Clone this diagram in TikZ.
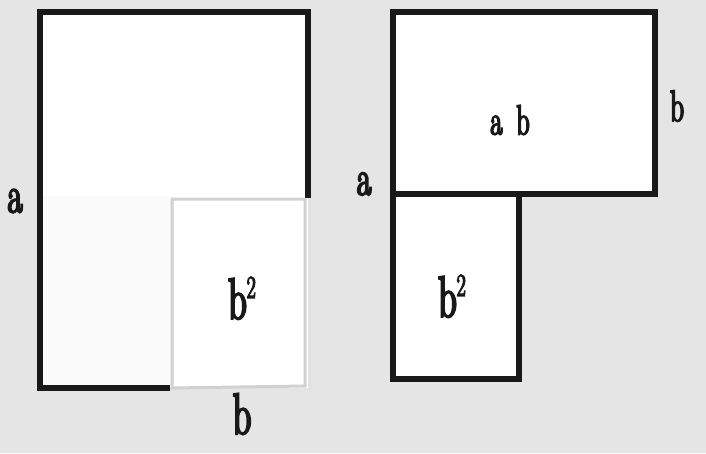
\documentclass[tikz,border=0pt]{standalone}
\usepackage{fontspec}
\newfontfamily\labfont[FakeBold=4,FakeStretch=0.62]{Latin Modern Roman}
\newcommand\narrowtxt[2]{{\labfont\fontsize{#1}{#1}\selectfont #2}}
\begin{document}
\begin{tikzpicture}[x=1pt,y=-1pt,
  thick line/.style={draw=black!90, line width=6.5pt},
  faint line/.style={draw=black!18, line width=3pt},
  lbl/.style={inner sep=0pt, text=black!90}]
\fill[black!10] (0,0) rectangle (706,453);
\useasboundingbox (0,0) rectangle (706,453);
% left figure
\fill[white] (40,12) rectangle (308,388);
\fill[black!2] (40,196) rectangle (172,388);
\draw[faint line] (172,388) -- (172,199) -- (305,199) -- (305,386) -- cycle;
\draw[black!12, line width=2pt] (310,197) -- (310,391);
\draw[thick line, line join=miter] (170,388) -- (40,388) -- (40,12) -- (308,12) -- (308,198);
% right figure
\draw[thick line, fill=white] (393,12) rectangle (655,194);
\draw[thick line, fill=white] (393,194) rectangle (519,379);
% labels
\node[lbl] (aL) at (15,201) {\narrowtxt{52}{a}};
\node[lbl] (bL) at (242,414) {\narrowtxt{58}{b}};
\node[lbl] (bsqL) at (242,298) {\narrowtxt{58}{b\raisebox{0.36em}{\fontsize{32}{32}\selectfont 2}}};
\node[lbl] (ab) at (510,120) {\narrowtxt{42}{a\,\,b}};
\node[lbl] (bR) at (677,106) {\narrowtxt{44}{b}};
\node[lbl] (aR) at (364,184) {\narrowtxt{50}{a}};
\node[lbl] (bsqR) at (452,296) {\narrowtxt{58}{b\raisebox{0.36em}{\fontsize{32}{32}\selectfont 2}}};
\end{tikzpicture}
\end{document}
